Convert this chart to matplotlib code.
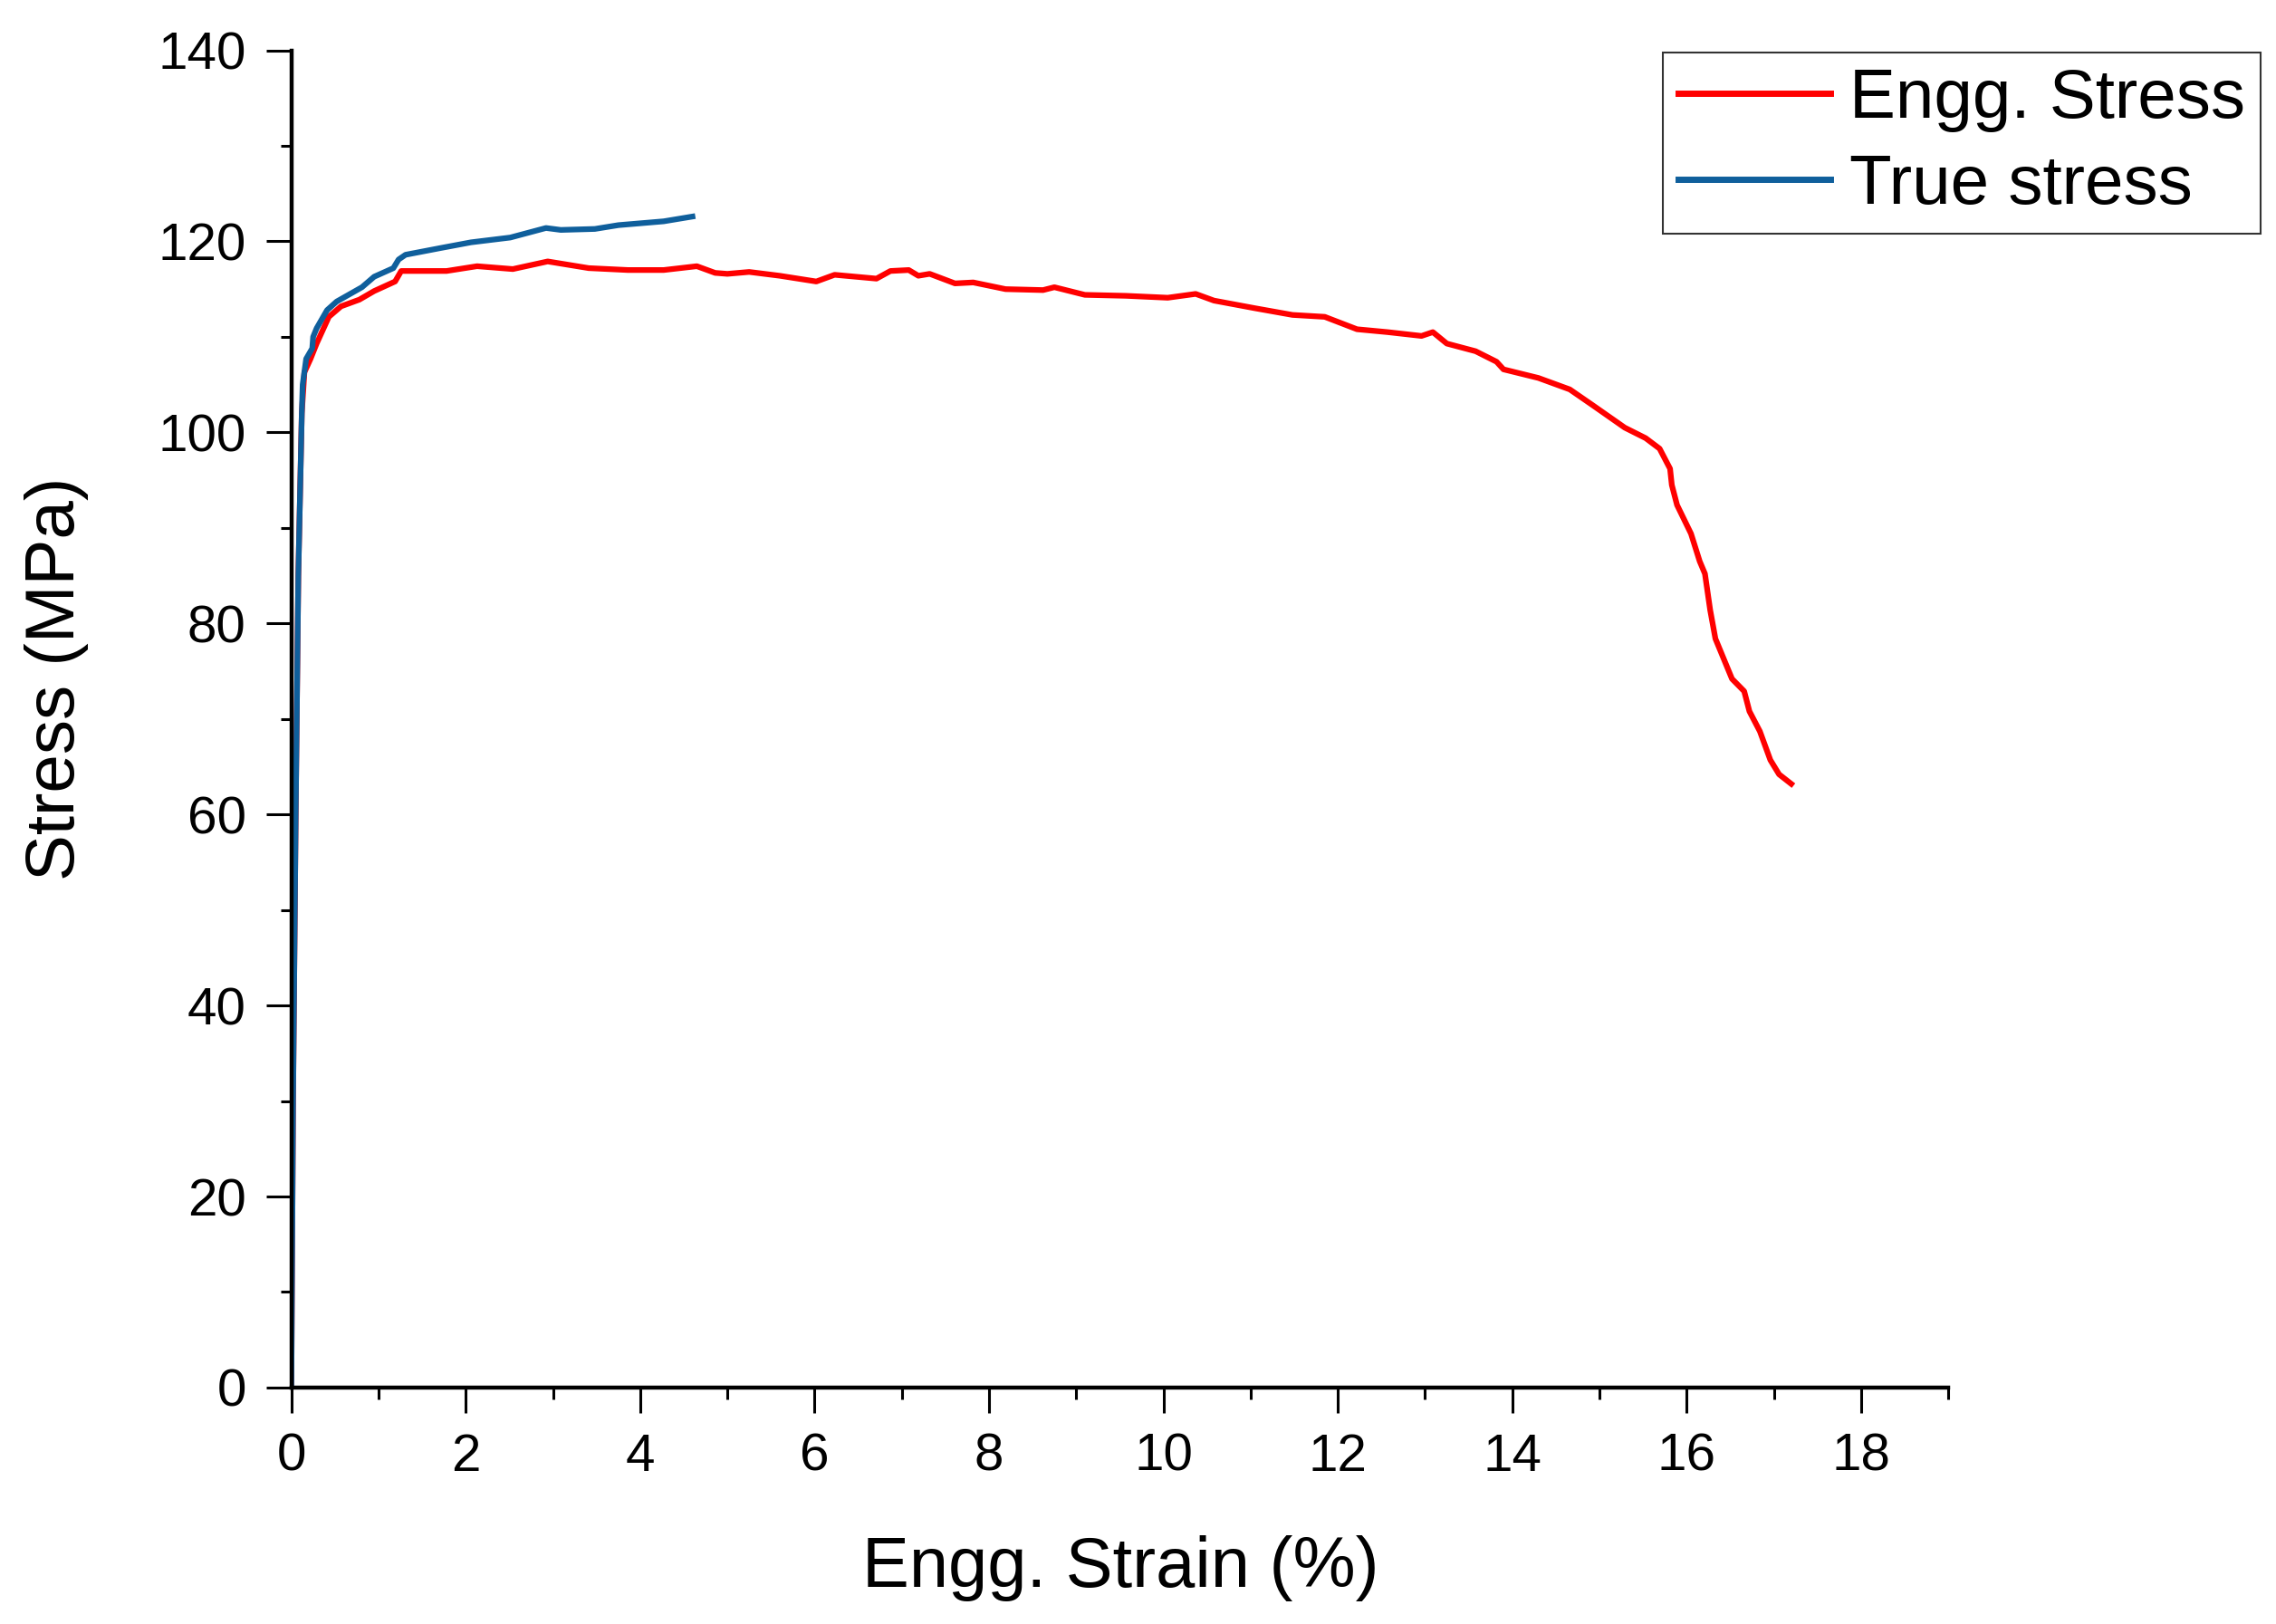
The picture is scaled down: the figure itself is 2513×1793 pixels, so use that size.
import matplotlib
matplotlib.use("Agg")
import matplotlib.pyplot as plt
from matplotlib.ticker import MultipleLocator

plt.rcParams['font.family'] = ['Liberation Sans', 'DejaVu Sans']

# engineering curve
eng_strain = [0, 0.02, 0.05, 0.08, 0.12, 0.15, 0.22, 0.29, 0.43, 0.57, 0.78, 0.95,
              1.19, 1.26, 1.78, 2.13, 2.54, 2.94, 3.41, 3.86, 4.27, 4.65, 4.86,
              5.0, 5.25, 5.6, 6.02, 6.23, 6.71, 6.87, 7.08, 7.19, 7.32, 7.61, 7.82,
              8.19, 8.62, 8.75, 9.1, 9.57, 10.05, 10.37, 10.58, 11.05, 11.48, 11.85,
              12.22, 12.57, 12.96, 13.09, 13.25, 13.58, 13.82, 13.9, 14.3, 14.66,
              14.93, 15.29, 15.53, 15.69, 15.81, 15.83, 15.89, 16.05, 16.15, 16.21,
              16.27, 16.33, 16.52, 16.66, 16.72, 16.84, 16.96, 17.06, 17.2]
eng_stress = [0, 30, 60, 85, 102, 106.3, 107.7, 109.3, 112.1, 113.2, 113.9, 114.8,
              115.8, 116.9, 116.9, 117.4, 117.1, 117.9, 117.2, 117.0, 117.0, 117.4, 116.7,
              116.6, 116.8, 116.4, 115.8, 116.5, 116.1, 116.9, 117.0, 116.4, 116.6, 115.6, 115.7,
              115.0, 114.9, 115.2, 114.4, 114.3, 114.1, 114.5, 113.8, 113.0, 112.3, 112.1,
              110.8, 110.5, 110.1, 110.5, 109.3, 108.5, 107.4, 106.6, 105.7, 104.5,
              102.8, 100.5, 99.4, 98.3, 96.2, 94.5, 92.4, 89.4, 86.5, 85.2,
              81.4, 78.4, 74.2, 72.9, 70.8, 68.7, 65.7, 64.2, 63.2]

# true curve
true_strain = [0, 0.02, 0.05, 0.08, 0.12, 0.13, 0.17, 0.24, 0.25, 0.29, 0.41, 0.52,
               0.81, 0.95, 1.17, 1.23, 1.31, 1.71, 2.06, 2.51, 2.92, 3.09, 3.48,
               3.75, 4.27, 4.6]
true_stress = [0, 30, 60, 85, 102, 105, 107.7, 108.8, 110, 110.9, 112.8, 113.7,
               115.2, 116.3, 117.2, 118.1, 118.6, 119.3, 119.9, 120.4, 121.4, 121.2, 121.3,
               121.7, 122.1, 122.6]

fig = plt.figure(figsize=(25.13, 17.93), dpi=100)
ax = fig.add_axes([0.128, 0.1456, 0.728, 0.8234])

ax.plot(eng_strain, eng_stress, color='#ff0000', lw=4.5, label='Engg. Stress')
ax.plot(true_strain, true_stress, color='#0f5f9c', lw=4.5, label='True stress')

ax.set_xlim(0, 19)
ax.set_ylim(0, 140)
ax.xaxis.set_major_locator(MultipleLocator(2))
ax.xaxis.set_minor_locator(MultipleLocator(1))
ax.yaxis.set_major_locator(MultipleLocator(20))
ax.yaxis.set_minor_locator(MultipleLocator(10))

for s in ['top', 'right']:
    ax.spines[s].set_visible(False)
for s in ['left', 'bottom']:
    ax.spines[s].set_linewidth(3.2)

ax.tick_params(which='major', direction='out', length=20, width=2.2, labelsize=42, pad=16)
ax.tick_params(which='minor', direction='out', length=9, width=2.2)

fig.text(0.4922, 0.0229, 'Engg. Strain (%)', fontsize=56, ha='center', va='baseline')
fig.text(0.0326, 0.5823, 'Stress (MPa)', fontsize=55, rotation=90,
         rotation_mode='anchor', ha='center', va='baseline')

leg = fig.legend(loc='upper left', bbox_to_anchor=(0.7306, 0.9677), borderaxespad=0,
                 fontsize=55, frameon=True, fancybox=False, handlelength=2.2,
                 handletextpad=0.28, borderpad=0.22, labelspacing=0.32)
leg.get_frame().set_edgecolor('black')
leg.get_frame().set_linewidth(1.5)
for line in leg.get_lines():
    line.set_linewidth(5)

fig.savefig('out.png', dpi=100)
